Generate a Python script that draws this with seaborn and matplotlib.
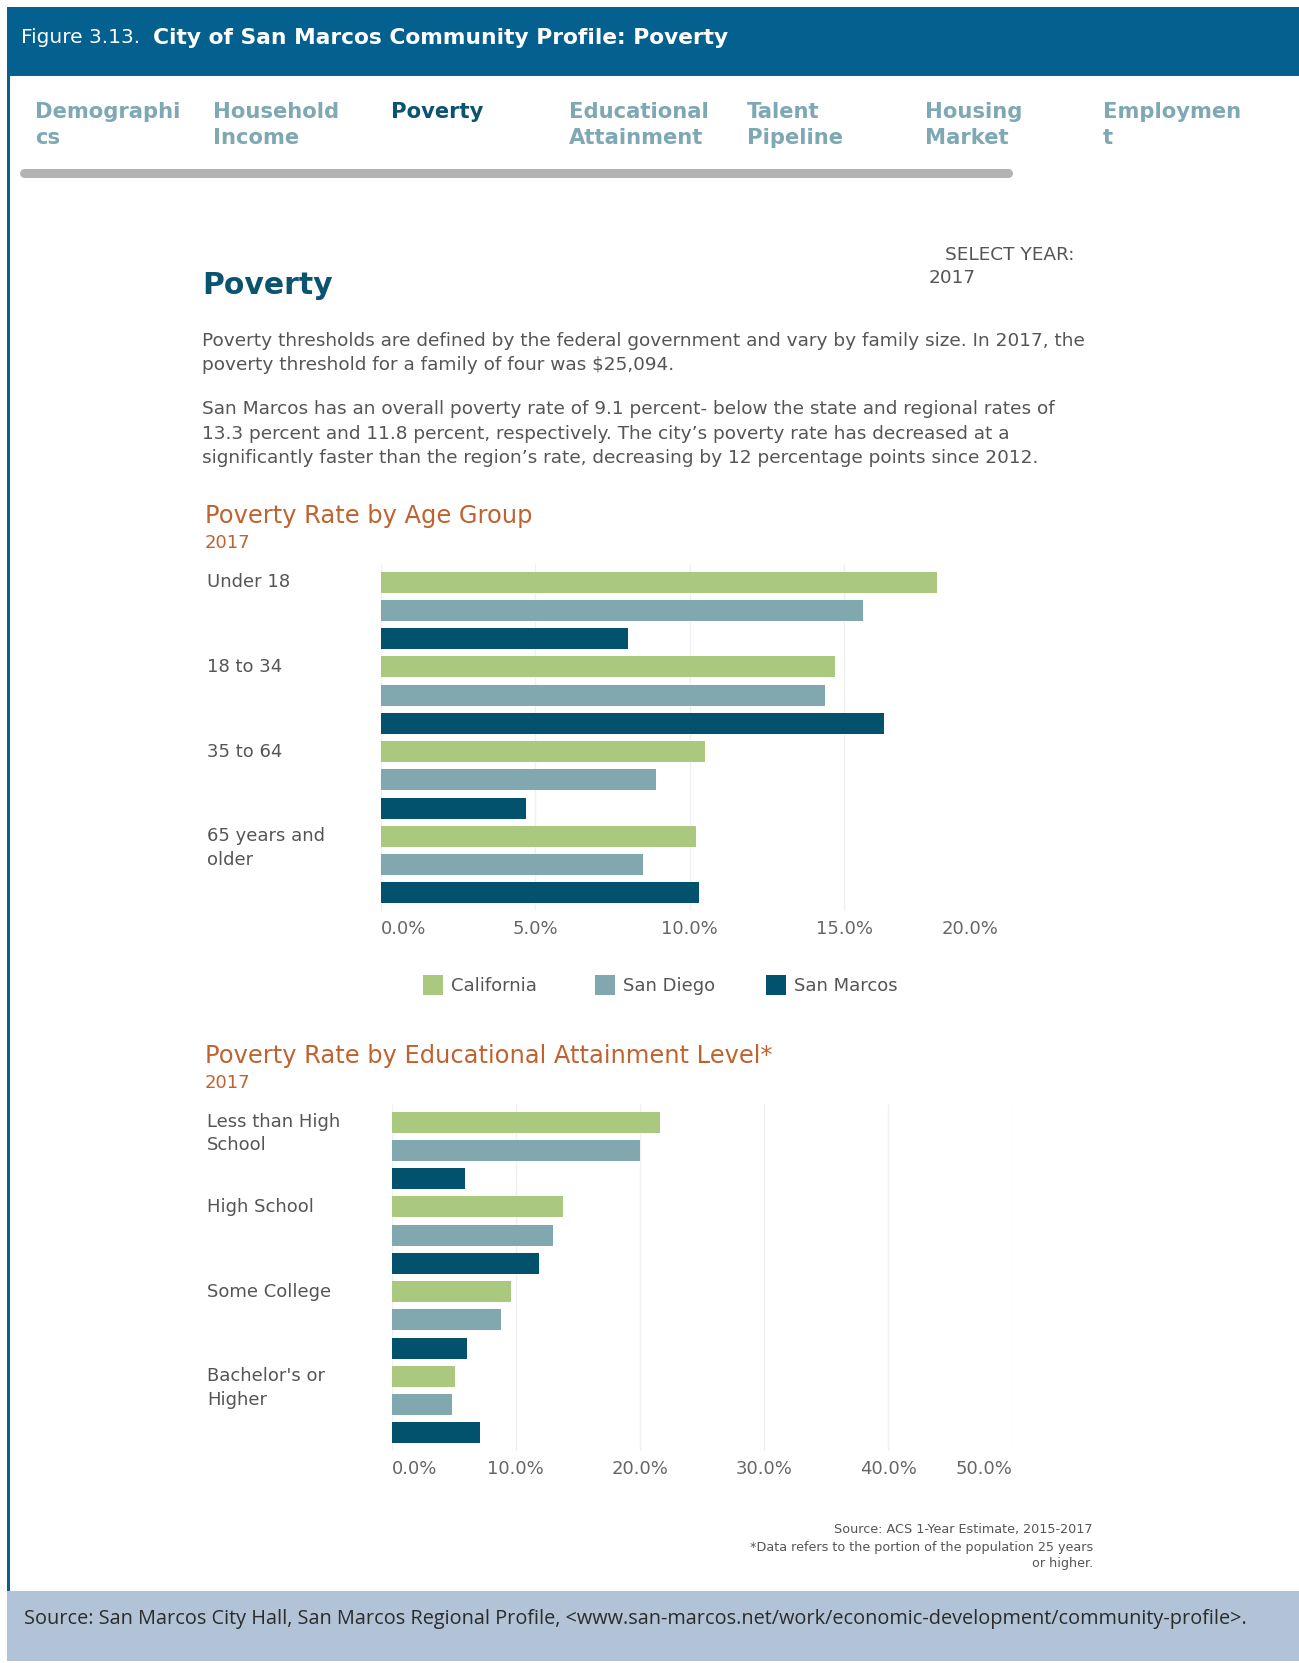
import pandas as pd
import matplotlib.pyplot as plt
import matplotlib.transforms as mtransforms
from matplotlib.patches import Rectangle
from matplotlib.lines import Line2D
import seaborn as sns

# Datos (tasa de pobreza, %)
regions = ["California", "San Diego", "San Marcos"]
region_colors = ["#aac97f", "#80a8ae", "#02526d"]

age_groups = ["Under 18", "18 to 34", "35 to 64", "65 years and\nolder"]
age_california = [18.0, 14.7, 10.5, 10.2]
age_san_diego = [15.6, 14.4, 8.9, 8.5]
age_san_marcos = [8.0, 16.3, 4.7, 10.3]
age_ticks = [0, 5, 10, 15, 20]

edu_levels = ["Less than High\nSchool", "High School", "Some College", "Bachelor's or\nHigher"]
edu_california = [21.6, 13.8, 9.6, 5.1]
edu_san_diego = [20.0, 13.0, 8.8, 4.9]
edu_san_marcos = [5.9, 11.9, 6.1, 7.1]
edu_ticks = [0, 10, 20, 30, 40, 50]

tabs = ["Demographi\ncs", "Household\nIncome", "Poverty", "Educational\nAttainment",
        "Talent\nPipeline", "Housing\nMarket", "Employmen\nt"]

sns.set_theme(style="white")
plt.rcParams["font.family"] = ["DejaVu Sans"]

W, H = 1299, 1663
def fx(px):
    return px / W
def fy(px):
    return 1 - px / H

HEADER = "#04608f"
TEAL = "#0b5470"
ORANGE = "#c0622f"
GRAY = "#555555"

fig = plt.figure(figsize=(W / 100, H / 100), dpi=100)
fig.patch.set_facecolor("white")

# Cabecera y bordes
fig.add_artist(Rectangle((fx(7.4), fy(76.3)), 1 - fx(7.4), 68.9 / H,
                         transform=fig.transFigure, color=HEADER, lw=0))
fig.add_artist(Rectangle((fx(7.4), fy(1591)), 2.2 / W, (1591 - 76) / H,
                         transform=fig.transFigure, color=HEADER, lw=0))
fig.add_artist(Rectangle((fx(7.4), fy(1660.6)), 1 - fx(7.4), 70 / H,
                         transform=fig.transFigure, color="#b2c3d8", lw=0))

fig.text(fx(21), fy(37.5), "Figure 3.13.", color="white", fontsize=14.5, va="center")
fig.text(fx(153), fy(37.5), "City of San Marcos Community Profile: Poverty", color="white",
         fontsize=15.7, fontweight="bold", va="center")

# Pestañas
tab_x = [35, 213, 391, 569, 747, 925, 1103]
for x, t in zip(tab_x, tabs):
    col = TEAL if t == "Poverty" else "#7fa8b5"
    for k, line in enumerate(t.split("\n")):
        fig.text(fx(x), fy(112.5 + 25.5 * k), line, color=col, fontsize=15.2,
                 fontweight="bold", va="center")
fig.add_artist(Line2D([fx(24), fx(1008)], [fy(173), fy(173)], transform=fig.transFigure,
                      color="#b3b3b3", lw=6.5, solid_capstyle="round"))

# Texto introductorio
fig.text(fx(202.5), fy(285), "Poverty", color=TEAL, fontsize=21.5, fontweight="bold", va="center")
fig.text(fx(945), fy(254.5), "SELECT YEAR:", color=GRAY, fontsize=13.3, va="center")
fig.text(fx(929), fy(278), "2017", color=GRAY, fontsize=13.3, va="center")

parrafo = [
    (341.5, "Poverty thresholds are defined by the federal government and vary by family size. In 2017, the"),
    (364.8, "poverty threshold for a family of four was $25,094."),
    (409.3, "San Marcos has an overall poverty rate of 9.1 percent- below the state and regional rates of"),
    (433.7, "13.3 percent and 11.8 percent, respectively. The city\u2019s poverty rate has decreased at a"),
    (458.0, "significantly faster than the region\u2019s rate, decreasing by 12 percentage points since 2012."),
]
for y, line in parrafo:
    fig.text(fx(202.5), fy(y), line, color=GRAY, fontsize=13.3, va="center")


def grafico(rect, cats, ca, sd, sm, ticks, title, title_y):
    df = pd.DataFrame({"group": cats * 3,
                       "region": [r for r in regions for _ in cats],
                       "rate": ca + sd + sm})
    ax = fig.add_axes(rect)
    sns.barplot(data=df, y="group", x="rate", hue="region", hue_order=regions,
                palette=region_colors, saturation=1, orient="h", width=1.0, gap=0.255,
                dodge=True, linewidth=0, legend=False, ax=ax)
    ax.set_xlim(ticks[0], ticks[-1])
    ax.set_ylim(3.551, -0.551)
    ax.set_yticks([])
    ax.set_xticks(ticks)
    ax.set_xticklabels([f"{t:.1f}%" for t in ticks])
    lbls = ax.get_xticklabels()
    lbls[0].set_ha("left")
    lbls[-1].set_ha("right")
    ax.tick_params(axis="x", length=0, pad=6, labelsize=13, labelcolor="#666666")
    ax.xaxis.grid(True, color="#f0f0f0", lw=1)
    ax.set_axisbelow(True)
    ax.set_xlabel("")
    ax.set_ylabel("")
    for s in ax.spines.values():
        s.set_visible(False)
    trans = mtransforms.blended_transform_factory(fig.transFigure, ax.transData)
    for i, c in enumerate(cats):
        for k, line in enumerate(c.split("\n")):
            ax.text(fx(206.8), i - 1 / 3 + 0.275 * k, line, transform=trans,
                    fontsize=13, color=GRAY, va="center")
    fig.text(fx(204.7), fy(title_y), title, color=ORANGE, fontsize=17.4, va="center")
    fig.text(fx(204.7), fy(title_y + 26.5), "2017", color=ORANGE, fontsize=13, va="center")
    return ax


grafico([fx(380.5), fy(911.3), (998.5 - 380.5) / W, (911.3 - 563.7) / H],
        age_groups, age_california, age_san_diego, age_san_marcos, age_ticks,
        "Poverty Rate by Age Group", 516.4)

grafico([fx(391.6), fy(1451.3), (1012.6 - 391.6) / W, (1451.3 - 1103.7) / H],
        edu_levels, edu_california, edu_san_diego, edu_san_marcos, edu_ticks,
        "Poverty Rate by Educational Attainment Level*", 1056)

# Leyenda
leg_x = [423, 595, 766]
for x, name, col in zip(leg_x, regions, region_colors):
    fig.add_artist(Rectangle((fx(x), fy(995)), 19.5 / W, 19.5 / H,
                             transform=fig.transFigure, color=col, lw=0))
    fig.text(fx(x + 28), fy(985.5), name, color=GRAY, fontsize=13, va="center")

# Notas y fuente
notas = ["Source: ACS 1-Year Estimate, 2015-2017",
         "*Data refers to the portion of the population 25 years",
         "or higher."]
for k, line in enumerate(notas):
    fig.text(fx(1093), fy(1530 + 17 * k), line, color=GRAY, fontsize=9.2,
             ha="right", va="center")

fig.text(fx(24), fy(1619),
         "Source: San Marcos City Hall, San Marcos Regional Profile, "
         "<www.san-marcos.net/work/economic-development/community-profile>.",
         color="#2b2b2b", fontsize=14.3, family=["Open Sans", "DejaVu Sans"], va="center")

plt.savefig("out.png", dpi=100)
plt.close()
